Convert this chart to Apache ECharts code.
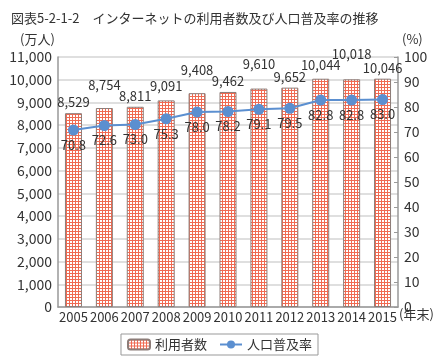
<!DOCTYPE html>
<html><head><meta charset="utf-8">
<script src="https://cdn.jsdelivr.net/npm/echarts@6/dist/echarts.min.js"></script>
<style>html,body{margin:0;padding:0;background:#fff}#c{width:439px;height:362px}</style>
</head><body><div id="c"></div>
<script>
const years = ['2005','2006','2007','2008','2009','2010','2011','2012','2013','2014','2015'];
const users = [8529, 8754, 8811, 9091, 9408, 9462, 9610, 9652, 10044, 10018, 10046];
const rate = [70.8, 72.6, 73.0, 75.3, 78.0, 78.2, 79.1, 79.5, 82.8, 82.8, 83.0];
const leftTicks = {min: 0, max: 11000, interval: 1000};
const rightTicks = {min: 0, max: 100, interval: 10};
// label lift above bar tops (styling, alternating for readability)
const barLabelLift = [3, 14, 2, 6, 15, 2, 16, 2, 5, 17, 2];

const FONT = '"Noto Sans CJK JP", "Noto Sans", sans-serif';

const pc = document.createElement('canvas');
pc.width = 3; pc.height = 3;
const g = pc.getContext('2d');
g.fillStyle = '#f06a52'; g.fillRect(0, 0, 3, 3);
g.fillStyle = '#ffffff'; g.fillRect(1, 1, 2, 2);
const pattern = {image: pc, repeat: 'repeat'};

const chart = echarts.init(document.getElementById('c'), null, {renderer: 'canvas'});
chart.setOption({
  animation: false,
  textStyle: {fontFamily: FONT},
  title: {text: '図表5-2-1-2\u3000インターネットの利用者数及び人口普及率の推移', left: 6, top: 7,
    textStyle: {fontSize: 13, fontWeight: 'normal', color: '#333', fontFamily: FONT}},
  grid: {left: 58, right: 41, top: 57, bottom: 55},
  legend: {bottom: 7, left: 'center', data: ['利用者数', '人口普及率'],
    borderColor: '#999', borderWidth: 1, padding: [4, 6], itemGap: 12, itemWidth: 22, itemHeight: 10,
    textStyle: {fontSize: 13, color: '#333', fontFamily: FONT}},
  xAxis: {type: 'category', data: years,
    axisLine: {lineStyle: {color: '#999', width: 1.5}}, axisTick: {show: false},
    axisLabel: {fontSize: 13, color: '#333', margin: 4, interval: 0}},
  yAxis: [
    {type: 'value', min: leftTicks.min, max: leftTicks.max, interval: leftTicks.interval,
      axisLine: {show: true, lineStyle: {color: '#999', width: 1.5}}, axisTick: {show: false},
      splitLine: {lineStyle: {color: '#d4d4d4', width: 1.5}},
      axisLabel: {fontSize: 14, color: '#333', margin: 6,
        formatter: v => v.toLocaleString('en-US')}},
    {type: 'value', min: rightTicks.min, max: rightTicks.max, interval: rightTicks.interval, position: 'right',
      axisLine: {show: true, lineStyle: {color: '#999', width: 1.5}},
      axisTick: {show: true, inside: true, length: 4, lineStyle: {color: '#999'}},
      splitLine: {show: false},
      axisLabel: {fontSize: 14, color: '#333', margin: 6}}
  ],
  series: [
    {name: '利用者数', type: 'bar', yAxisIndex: 0, barWidth: '55%',
      data: users.map((v, i) => ({value: v, label: {distance: 2 + barLabelLift[i]}})),
      itemStyle: {color: pattern, borderColor: '#8c7c78', borderWidth: 1},
      label: {show: true, position: 'top', fontSize: 13, color: '#333',
        formatter: p => p.value.toLocaleString('en-US')}},
    {name: '人口普及率', type: 'line', yAxisIndex: 1, data: rate,
      symbol: 'circle', symbolSize: 11,
      lineStyle: {color: '#5b8fd0', width: 2}, itemStyle: {color: '#5b8fd0'},
      label: {show: true, position: 'bottom', distance: 3, fontSize: 13, color: '#333',
        formatter: p => p.value.toFixed(1)}}
  ],
  graphic: [
    {type: 'text', left: 20, top: 33, style: {text: '(万人)', fontSize: 13, fill: '#333', fontFamily: FONT}},
    {type: 'text', left: 402, top: 33, style: {text: '(%)', fontSize: 13, fill: '#333', fontFamily: FONT}},
    {type: 'text', left: 399, top: 308, style: {text: '(年末)', fontSize: 13, fill: '#333', fontFamily: FONT}}
  ]
});
</script></body></html>
